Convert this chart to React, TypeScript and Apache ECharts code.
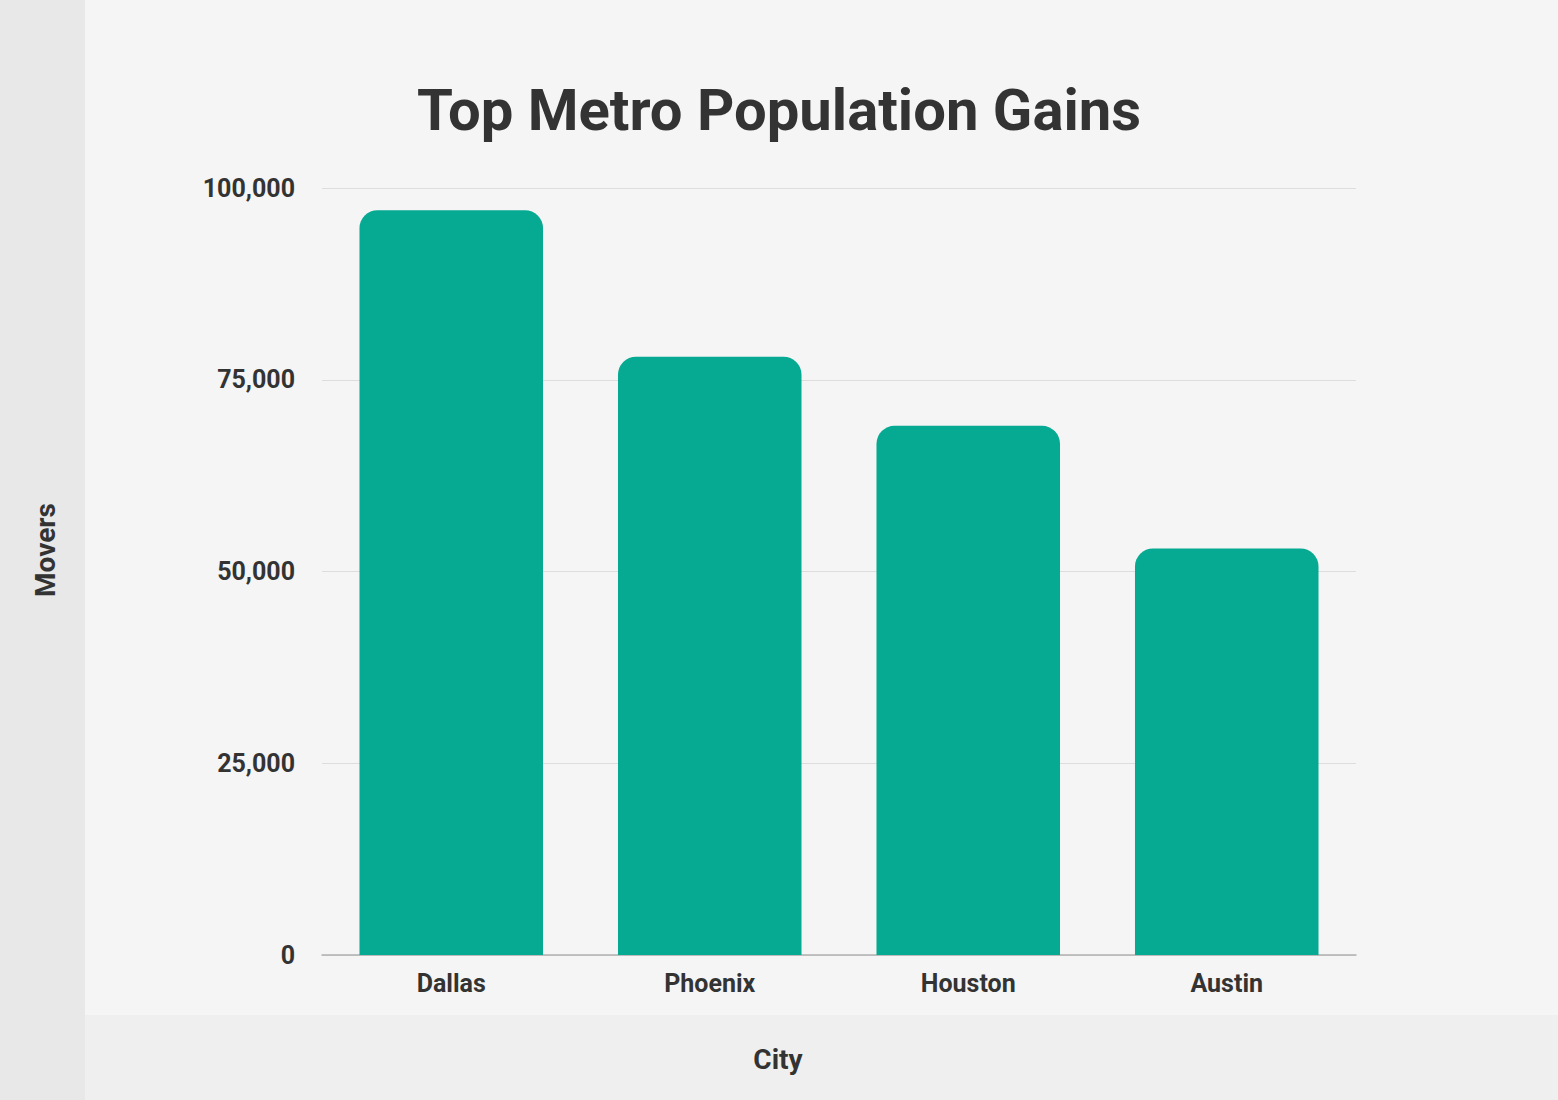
import React, { useEffect, useRef } from "react";
import * as echarts from "echarts";

const cities = ["Dallas", "Phoenix", "Houston", "Austin"];
const movers = [97100, 78000, 69000, 53000];
const yTicks = [0, 25000, 50000, 75000, 100000];

export default function App() {
  const ref = useRef<HTMLDivElement>(null);
  useEffect(() => {
    document.body.style.margin = "0";
    const chart = echarts.init(ref.current!, null, { renderer: "svg" });
    chart.setOption({
      animation: false,
      backgroundColor: "#f5f5f5",
      textStyle: { fontFamily: "Roboto" },
      graphic: [
        { type: "rect", left: 0, top: 0, z: -10, shape: { width: 85, height: 1100 }, style: { fill: "#e8e8e8" } },
        { type: "rect", left: 85, top: 1015, z: -10, shape: { width: 1473, height: 85 }, style: { fill: "#efefef" } },
        {
          type: "text",
          x: 778,
          y: 1059,
          style: {
            text: "City",
            fontFamily: "Roboto",
            fontWeight: "bold",
            fontSize: 28,
            fill: "#333333",
            align: "center",
            verticalAlign: "middle",
          },
        },
        {
          type: "text",
          x: 45,
          y: 550,
          rotation: Math.PI / 2,
          style: {
            text: "Movers",
            fontFamily: "Roboto",
            fontWeight: "bold",
            fontSize: 28,
            fill: "#333333",
            align: "center",
            verticalAlign: "middle",
          },
        },
      ],
      title: {
        text: "Top Metro Population Gains",
        left: "center",
        top: 76,
        textStyle: { fontFamily: "Roboto", fontWeight: "bold", fontSize: 58, color: "#333333" },
      },
      grid: { left: 322, right: 202, top: 188, bottom: 145, containLabel: false },
      xAxis: {
        type: "category",
        data: cities,
        axisLine: { lineStyle: { color: "#b0b0b0", width: 1.5 } },
        axisTick: { show: false },
        axisLabel: { fontFamily: "Roboto", fontWeight: "bold", fontSize: 25, color: "#333333", margin: 16 },
      },
      yAxis: {
        type: "value",
        min: 0,
        max: 100000,
        interval: 25000,
        axisLine: { show: false },
        axisTick: { show: false },
        splitLine: { lineStyle: { color: "#dddddd", width: 1 } },
        axisLabel: {
          fontFamily: "Roboto",
          fontWeight: "bold",
          fontSize: 25,
          color: "#333333",
          margin: 27,
          formatter: (v: number) => (yTicks.includes(v) ? v.toLocaleString("en-US") : ""),
        },
      },
      series: [
        {
          type: "bar",
          data: movers,
          barWidth: "71%",
          itemStyle: { color: "#06a992", borderRadius: [18, 18, 0, 0] },
        },
      ],
    });
    return () => chart.dispose();
  }, []);
  return <div ref={ref} style={{ width: 1558, height: 1100 }} />;
}
